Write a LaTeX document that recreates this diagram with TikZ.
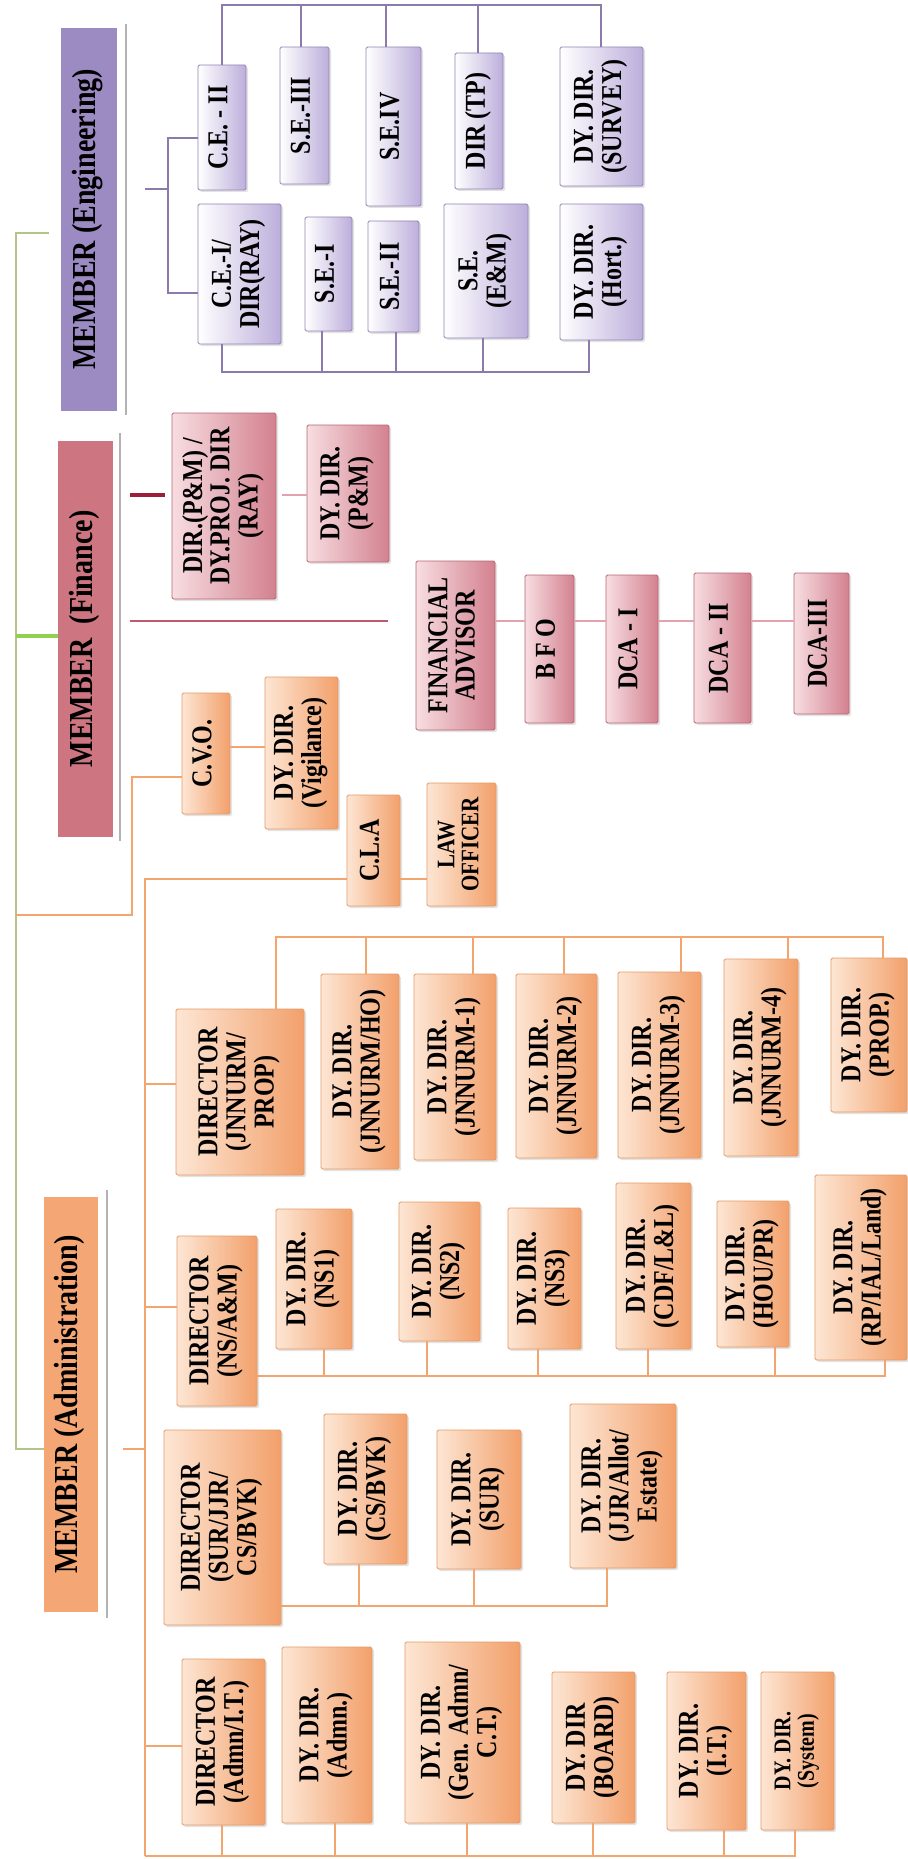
\documentclass[tikz,border=0pt]{standalone}
\usepackage{fontspec}
\setmainfont{Liberation Serif}
\usetikzlibrary{shadows,calc}
\definecolor{engfill}{HTML}{9B8BC2}
\definecolor{englc}{HTML}{8A7BAB}
\definecolor{engR}{HTML}{BCAEDB}
\definecolor{engD}{HTML}{9384B3}
\definecolor{finfill}{HTML}{CD7581}
\definecolor{finlc}{HTML}{BE5A6B}
\definecolor{finstubc}{HTML}{9C1F3A}
\definecolor{finL}{HTML}{F7DDE1}
\definecolor{finR}{HTML}{D3818F}
\definecolor{finD}{HTML}{B86574}
\definecolor{finlight}{HTML}{E3A2AF}
\definecolor{admfill}{HTML}{F4A674}
\definecolor{admlc}{HTML}{F2A56F}
\definecolor{admL}{HTML}{FDE6D4}
\definecolor{admR}{HTML}{F2A06B}
\definecolor{admD}{HTML}{E59A66}
\definecolor{gtrunk}{HTML}{B4C58A}
\definecolor{gbright}{HTML}{92D050}
\newcommand\rt[2][24]{\rotatebox{90}{\scalebox{1}[1.2]{\fontsize{#1pt}{\dimexpr #1pt*19/20\relax}\selectfont\bfseries\begin{tabular}{@{}c@{}}#2\end{tabular}}}}
\newcommand\bx[7]{%
  \node[#2, minimum width={#5pt-#3pt}, minimum height={#6pt-#4pt}] (#1) at ({(#3+#5)/2},{(#4+#6)/2}) {};
  \node[txt] at (#1.center) {#7};}
\begin{document}
\begin{tikzpicture}[x=1pt,y=-1pt,
  box/.style={rectangle, inner sep=0pt, outer sep=0pt, rounded corners=1.5pt, line width=0.8pt,
    drop shadow={shadow xshift=2pt,shadow yshift=-2pt,fill=black!22}},
  ebox/.style={box, draw=engD, left color=white, right color=engR},
  fbox/.style={box, draw=finD, left color=finL, right color=finR},
  abox/.style={box, draw=admD, left color=admL, right color=admR},
  mem/.style={rectangle, inner sep=0pt, outer sep=0pt, fill=#1},
  txt/.style={inner sep=0pt, text=black},
  eline/.style={draw=englc, line width=2.6pt},
  aline/.style={draw=admlc, line width=2.6pt},
  fline/.style={draw=finlc, line width=2.6pt},
  fstub/.style={draw=finstubc, line width=3.5pt},
  flight/.style={draw=finlight, line width=2.4pt},
  gline/.style={draw=gtrunk, line width=2.6pt},
  gbline/.style={draw=gbright, line width=3.5pt},
  shline/.style={draw=black!30, line width=2.4pt}
]
\useasboundingbox (0,0) rectangle (907,1859);

% ---------- MEMBER boxes ----------
\bx{meng}{mem=engfill}{61}{28}{117}{411}{\rt[28]{MEMBER (Engineering)}}
\bx{mfin}{mem=finfill}{58}{441}{113}{837}{\rt[28]{MEMBER\ \ (Finance)}}
\bx{madm}{mem=admfill}{44}{1197}{98}{1612}{\rt[28]{MEMBER (Administration)}}
\draw[shline] (126,24) -- (126,415);
\draw[shline] (120,433) -- (120,841);
\draw[shline] (107,1190) -- (107,1618);

% ---------- Engineering ----------
\bx{ce2}{ebox}{198}{65}{246}{190}{\rt{C.E. - II}}
\bx{se3}{ebox}{280}{47}{329}{184}{\rt{S.E.-III}}
\bx{se4}{ebox}{366}{47}{421}{206}{\rt{S.E.IV}}
\bx{dtp}{ebox}{455}{53}{503}{189}{\rt{DIR (TP)}}
\bx{dsv}{ebox}{560}{47}{643}{186}{\rt{DY. DIR.\\(SURVEY)}}
\bx{ce1}{ebox}{198}{204}{281}{344}{\rt{C.E.-I/\\DIR(RAY)}}
\bx{se1}{ebox}{305}{217}{352}{331}{\rt{S.E.-I}}
\bx{se2}{ebox}{368}{221}{419}{332}{\rt{S.E.-II}}
\bx{sem}{ebox}{444}{204}{528}{338}{\rt{S.E.\\(E\&M)}}
\bx{dht}{ebox}{560}{204}{643}{340}{\rt{DY. DIR.\\(Hort.)}}

\coordinate (ej) at (168,189);
\draw[eline] ($(meng.east|-ej)+(28,0)$) -- (ej);
\draw[eline] (ce2.west|-0,138) -- (168,138) -- (168,293) -- (ce1.west|-0,293);
\draw[eline] (ce2.north) -- (222,5) -- (601,5) -- (dsv.north-|601,0);
\foreach \n/\x in {se3/301,se4/386,dtp/478} \draw[eline] (\x,5) -- (\n.north-|\x,0);
\draw[eline] (ce1.south-|222,0) -- (222,372) -- (589,372) -- (dht.south-|589,0);
\foreach \n/\x in {se1/322,se2/396,sem/483} \draw[eline] (\n.south-|\x,0) -- (\x,372);

% ---------- Finance ----------
\bx{dpm}{fbox}{172}{413}{276}{599}{\rt{DIR.(P\&M) /\\DY.PROJ. DIR\\(RAY)}}
\bx{ddpm}{fbox}{307}{425}{389}{562}{\rt{DY. DIR.\\(P\&M)}}
\bx{fa}{fbox}{416}{561}{495}{730}{\rt{FINANCIAL\\ADVISOR}}
\bx{bfo}{fbox}{525}{575}{574}{723}{\rt{B F O}}
\bx{dca1}{fbox}{606}{575}{658}{723}{\rt{DCA - I}}
\bx{dca2}{fbox}{694}{573}{751}{723}{\rt{DCA - II}}
\bx{dca3}{fbox}{794}{573}{849}{714}{\rt{DCA-III}}

\draw[fstub] ($(dpm.west|-0,495)+(-42,0)$) -- ($(dpm.west|-0,495)+(-7,0)$);
\draw[flight] ($(dpm.east|-0,495)+(6,0)$) -- (ddpm.west|-0,495);
\draw[fline] ($(mfin.east|-0,621)+(17,0)$) -- ($(fa.west|-0,621)+(-28,0)$);
\draw[flight] (fa.east|-0,621) -- (bfo.west|-0,621);
\draw[flight] (bfo.east|-0,621) -- (dca1.west|-0,621);
\draw[flight] (dca1.east|-0,621) -- (dca2.west|-0,621);
\draw[flight] (dca2.east|-0,621) -- (dca3.west|-0,621);

% ---------- Green trunk ----------
\draw[gline] ($(meng.west|-0,233)+(-12,0)$) -- (16,233) -- (16,1449) -- (madm.west|-0,1449);
\draw[gbline] (16,636) -- (mfin.west|-0,636);

% ---------- Administration ----------
\bx{cvo}{abox}{182}{693}{230}{814}{\rt{C.V.O.}}
\bx{dvig}{abox}{265}{677}{338}{829}{\rt{DY. DIR.\\(Vigilance)}}
\bx{cla}{abox}{347}{795}{400}{906}{\rt{C.L.A}}
\bx{law}{abox}{427}{783}{496}{906}{\rt[21]{LAW\\OFFICER}}

\bx{djn}{abox}{176}{1009}{304}{1175}{\rt{DIRECTOR\\(JNNURM/\\PROP)}}
\bx{jho}{abox}{321}{974}{399}{1169}{\rt{DY. DIR.\\(JNNURM/HO)}}
\bx{j1}{abox}{414}{974}{496}{1160}{\rt{DY. DIR.\\(JNNURM-1)}}
\bx{j2}{abox}{516}{974}{597}{1158}{\rt{DY. DIR.\\(JNNURM-2)}}
\bx{j3}{abox}{618}{972}{701}{1158}{\rt{DY. DIR.\\(JNNURM-3)}}
\bx{j4}{abox}{724}{959}{798}{1156}{\rt{DY. DIR.\\(JNNURM-4)}}
\bx{jpr}{abox}{831}{958}{907}{1112}{\rt{DY. DIR.\\(PROP.)}}

\bx{dns}{abox}{177}{1236}{257}{1406}{\rt{DIRECTOR\\(NS/A\&M)}}
\bx{ns1}{abox}{276}{1209}{352}{1349}{\rt{DY. DIR.\\(NS1)}}
\bx{ns2}{abox}{399}{1202}{480}{1341}{\rt{DY. DIR.\\(NS2)}}
\bx{ns3}{abox}{508}{1208}{581}{1349}{\rt{DY. DIR.\\(NS3)}}
\bx{cdf}{abox}{616}{1183}{691}{1349}{\rt{DY. DIR.\\(CDF/L\&L)}}
\bx{hou}{abox}{717}{1201}{789}{1347}{\rt{DY. DIR.\\(HOU/PR)}}
\bx{rp}{abox}{815}{1175}{907}{1360}{\rt{DY. DIR.\\(RP/IAL/Land)}}

\bx{dsur}{abox}{164}{1430}{281}{1625}{\rt{DIRECTOR\\(SUR/JJR/\\CS/BVK)}}
\bx{dcs}{abox}{324}{1414}{407}{1564}{\rt{DY. DIR.\\(CS/BVK)}}
\bx{dsr}{abox}{437}{1430}{521}{1569}{\rt{DY. DIR.\\(SUR)}}
\bx{djj}{abox}{570}{1404}{676}{1568}{\rt{DY. DIR.\\(JJR/Allot/\\Estate)}}

\bx{dad}{abox}{182}{1659}{265}{1825}{\rt{DIRECTOR\\(Admn/I.T.)}}
\bx{dadm}{abox}{282}{1647}{372}{1823}{\rt{DY. DIR.\\(Admn.)}}
\bx{dgen}{abox}{405}{1642}{520}{1823}{\rt{DY. DIR.\\(Gen. Admn/\\C.T.)}}
\bx{dbd}{abox}{552}{1672}{635}{1823}{\rt{DY. DIR\\(BOARD)}}
\bx{dit}{abox}{667}{1672}{746}{1830}{\rt{DY. DIR.\\(I.T.)}}
\bx{dsy}{abox}{761}{1672}{834}{1830}{\rt[20]{DY. DIR.\\(System)}}

\coordinate (atop) at (145,879);
\coordinate (abot) at (145,1856);
\draw[aline] (16,915) -- (132,915) -- (132,777) -- (cvo.west|-0,777);
\draw[aline] (cvo.east|-0,747) -- (dvig.west|-0,747);
\draw[aline] (abot) -- (atop) -- (cla.west|-atop);
\draw[aline] (cla.east|-atop) -- (law.west|-atop);
\draw[aline] (145,1084) -- (djn.west|-0,1084);
\draw[aline] (djn.north-|276,0) -- (276,937) -- (883,937) -- (jpr.north-|883,0);
\foreach \n/\x in {jho/366,j1/473,j2/564,j3/681,j4/788} \draw[aline] (\x,937) -- (\n.north-|\x,0);
\draw[aline] (145,1307) -- (dns.west|-0,1307);
\draw[aline] (dns.east|-0,1376) -- (885,1376) -- (rp.south-|885,0);
\foreach \n/\x in {ns1/324,ns2/427,ns3/538,cdf/648,hou/775} \draw[aline] (\n.south-|\x,0) -- (\x,1376);
\draw[aline] ($(madm.east|-0,1449)+(25,0)$) -- (145,1449);
\draw[aline] (dsur.east|-0,1606) -- (607,1606) -- (djj.south-|607,0);
\foreach \n/\x in {dcs/359,dsr/474} \draw[aline] (\n.south-|\x,0) -- (\x,1606);
\draw[aline] (145,1746) -- (dad.west|-0,1746);
\draw[aline] (abot) -- (795,1856) -- (dsy.south-|795,0);
\foreach \n/\x in {dad/222,dadm/335,dgen/467,dbd/593,dit/724} \draw[aline] (\n.south-|\x,0) -- (\x,1856);
\end{tikzpicture}
\end{document}
